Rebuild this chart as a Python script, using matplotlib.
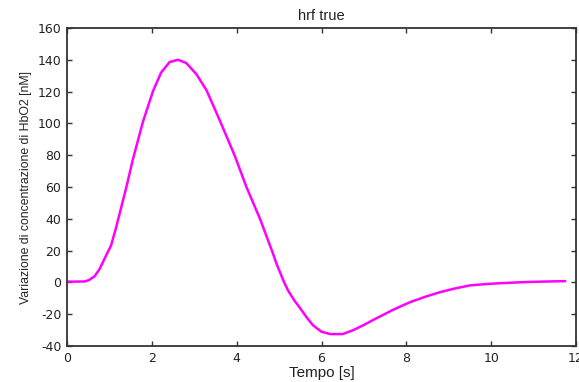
import matplotlib
matplotlib.use("Agg")
import matplotlib.pyplot as plt

plt.rcParams['font.family'] = ['Liberation Sans', 'DejaVu Sans']
plt.rcParams['axes.unicode_minus'] = False

time_s = [0.0, 0.2, 0.42, 0.52, 0.65, 0.77, 0.885, 1.04, 1.16, 1.28, 1.40, 1.55, 1.79,
          2.03, 2.22, 2.42, 2.62, 2.81, 3.05, 3.29, 3.6, 3.95, 4.23, 4.55, 4.83, 4.95,
          5.12, 5.21, 5.35, 5.49, 5.65, 5.8, 6.0, 6.2, 6.5, 6.75, 6.98, 7.3, 7.69, 8.09,
          8.45, 8.8, 9.15, 9.5, 9.9, 10.29, 10.8, 11.2, 11.74]
hbo2_nM = [0.5, 0.5, 0.6, 1.5, 3.8, 8.5, 14.9, 23.3, 34.8, 47.4, 60.0, 77.0, 101.0,
           120.5, 132.0, 138.6, 140.0, 138.0, 131.0, 120.8, 102.0, 80.0, 60.0, 40.0, 20.0, 11.0,
           0.0, -5.0, -11.0, -16.0, -22.0, -27.0, -31.0, -32.5, -32.5, -30.0, -27.0, -22.5, -17.2, -12.4,
           -9.0, -6.1, -3.8, -1.9, -1.0, -0.4, 0.2, 0.5, 0.8]

xticks = [0, 2, 4, 6, 8, 10, 12]
yticks = [-40, -20, 0, 20, 40, 60, 80, 100, 120, 140, 160]

fig = plt.figure(figsize=(5.79, 3.82), dpi=100)
ax = fig.add_axes([67/579, 36/382, 509/579, 318/382])
ax.plot(time_s, hbo2_nM, color='#FF00FF', lw=1.8, solid_joinstyle='round')
ax.set_xlim(0, 12)
ax.set_ylim(-40, 160)
ax.set_xticks(xticks)
ax.set_yticks(yticks)
ax.tick_params(direction='in', top=True, right=True, length=3.5, width=1,
               colors='#333333', labelcolor='#222222', pad=4)
for lab in ax.get_xticklabels() + ax.get_yticklabels():
    lab.set_fontfamily('DejaVu Sans')
    lab.set_fontsize(9)
for s in ax.spines.values():
    s.set_linewidth(1.3)
    s.set_color('#333333')
ax.set_title('hrf true', fontsize=10.5, color='#222222', pad=6)
ax.set_xlabel('Tempo [s]', fontsize=11, color='#222222', labelpad=1)
ax.set_ylabel('Variazione di concentrazione di HbO2 [nM]', fontsize=8.8, color='#222222', labelpad=4)
fig.savefig('out.png', dpi=100)
